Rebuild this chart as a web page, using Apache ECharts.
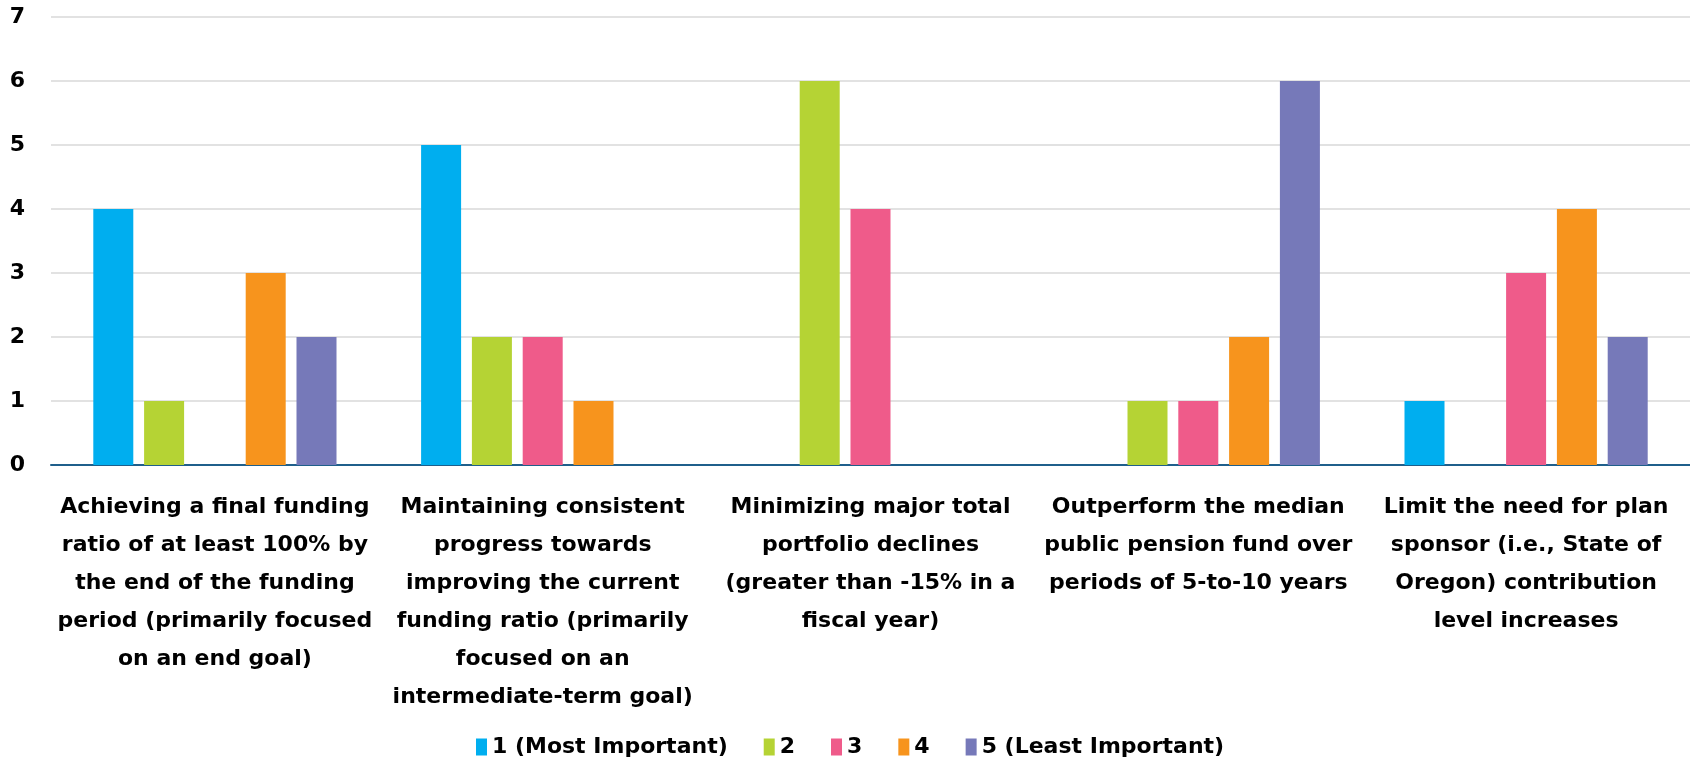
<!DOCTYPE html>
<html>
<head>
<meta charset="utf-8">
<script src="https://cdn.jsdelivr.net/npm/echarts@6/dist/echarts.min.js"></script>
<style>
  html, body { margin: 0; padding: 0; background: #fff; }
  #chart { width: 1690px; height: 767px; }
</style>
</head>
<body>
<div id="chart"></div>
<script>
// goals, one label per category (line breaks as in the source chart)
const categories = [
  'Achieving a final funding\nratio of at least 100% by\nthe end of the funding\nperiod (primarily focused\non an end goal)',
  'Maintaining consistent\nprogress towards\nimproving the current\nfunding ratio (primarily\nfocused on an\nintermediate-term goal)',
  'Minimizing major total\nportfolio declines\n(greater than -15% in a\nfiscal year)',
  'Outperform the median\npublic pension fund over\nperiods of 5-to-10 years',
  'Limit the need for plan\nsponsor (i.e., State of\nOregon) contribution\nlevel increases'
];

const rankNames = ['1 (Most Important)', '2', '3', '4', '5 (Least Important)'];
const rankColors = ['#00aeef', '#b5d334', '#ef5b8a', '#f7941d', '#7679b9'];

// votes per rank, in category order
const rank1 = [4, 5, 0, 0, 1];
const rank2 = [1, 2, 6, 1, 0];
const rank3 = [0, 2, 4, 1, 3];
const rank4 = [3, 1, 0, 2, 4];
const rank5 = [2, 0, 0, 6, 2];
const rankValues = [rank1, rank2, rank3, rank4, rank5];

const yMin = 0;
const yMax = 7;
const yStep = 1;

const FONT = '"DejaVu Sans", sans-serif';

const chart = echarts.init(document.getElementById('chart'));

const option = {
  backgroundColor: '#fff',
  animation: false,
  grid: { left: 51, right: 0, top: 17, bottom: 302, containLabel: false },
  legend: {
    bottom: 4,
    left: 471,
    itemWidth: 11,
    itemHeight: 17,
    itemGap: 36,
    icon: 'rect',
    textStyle: { color: '#000', fontSize: 22, fontWeight: 'bold', fontFamily: FONT }
  },
  xAxis: {
    type: 'category',
    data: categories,
    axisTick: { show: false },
    axisLine: { show: true, lineStyle: { color: '#1f5f8b', width: 2 } },
    axisLabel: {
      interval: 0,
      margin: 23,
      color: '#000',
      fontSize: 22,
      fontWeight: 'bold',
      fontFamily: FONT,
      lineHeight: 38,
      align: 'center'
    }
  },
  yAxis: {
    type: 'value',
    min: yMin,
    max: yMax,
    interval: yStep,
    axisLine: { show: false },
    axisTick: { show: false },
    axisLabel: { color: '#000', fontSize: 22, fontWeight: 'bold', fontFamily: FONT, margin: 26 },
    splitLine: { lineStyle: { color: '#d9d9d9', width: 1.5 } }
  },
  series: rankNames.map((name, i) => ({
    name: name,
    type: 'bar',
    data: rankValues[i],
    barWidth: 40,
    barGap: '27%',
    itemStyle: { color: rankColors[i] }
  }))
};

chart.setOption(option);
</script>
</body>
</html>
